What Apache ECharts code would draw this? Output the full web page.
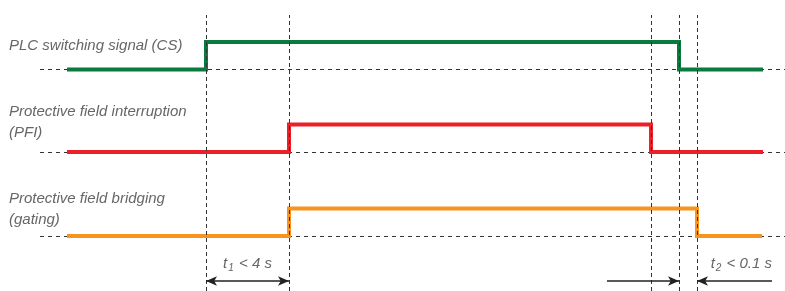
<!DOCTYPE html>
<html><head><meta charset="utf-8">
<script src="https://cdn.jsdelivr.net/npm/echarts@6/dist/echarts.min.js"></script>
<style>html,body{margin:0;padding:0;background:#fff}#c{width:785px;height:291px}</style>
</head><body><div id="c"></div>
<script>
// ---- data ----
const signalNames = ['PLC switching signal (CS)', 'Protective field interruption\n(PFI)', 'Protective field bridging\n(gating)'];
const traceStart = [67, 67, 67];
const riseTimes = [206, 289, 289];
const fallTimes = [679, 651, 697];
const traceEnd = [763, 763, 762];
const baselineFrom = 40;
const baselineTo = 785;
const markerTimes = [206, 289, 651, 679, 697];
const t1Span = [206, 289];
const t2Before = [607, 679];
const t2After = [697, 772];
const t1Text = ['t', '1', ' < 4 s'];
const t2Text = ['t', '2', ' < 0.1 s'];

// ---- layout ----
const W = 785;
const colors = ['#0b7a3e', '#ec2029', '#f7941d'];
const gridTops = [42, 124.5, 208.5];
const rowH = 27.5;
const labelTops = [35, 101, 188];
const FONT = '"Liberation Sans", Arial, sans-serif';

const grids = [], xAxes = [], yAxes = [], series = [];
function addGrid(g, ymin, ymax) {
  grids.push(Object.assign({left: 0, right: 0, containLabel: false}, g));
  const i = grids.length - 1;
  xAxes.push({gridIndex: i, type: 'value', min: 0, max: W, show: false});
  yAxes.push({gridIndex: i, type: 'value', min: ymin, max: ymax, show: false});
  return i;
}

signalNames.forEach((n, k) => {
  const gi = addGrid({top: gridTops[k], height: rowH}, 0, 1);
  // dashed baseline
  series.push({
    type: 'line', xAxisIndex: gi, yAxisIndex: gi, data: [], z: 1, silent: true,
    markLine: {
      silent: true, symbol: 'none', animation: false, z: 1,
      label: {show: false},
      lineStyle: {color: '#333', width: 1, type: [4, 4]},
      data: [[{coord: [baselineFrom, 0]}, {coord: [baselineTo, 0]}]]
    }
  });
  series.push({
    type: 'line', xAxisIndex: gi, yAxisIndex: gi, z: 3, step: 'end', clip: false,
    showSymbol: false, symbol: 'none', silent: true,
    lineStyle: {color: colors[k], width: 4, join: 'miter', cap: 'butt'},
    data: [[traceStart[k], 0], [riseTimes[k], 1], [fallTimes[k], 0], [traceEnd[k], 0]]
  });
});

// overlay grid for vertical markers
const go = addGrid({top: 15, bottom: 0}, 0, 1);
series.push({
  type: 'line', xAxisIndex: go, yAxisIndex: go, data: [], z: 5, silent: true,
  markLine: {
    silent: true, symbol: 'none', animation: false, z: 6,
    label: {show: false},
    lineStyle: {color: '#333', width: 1, type: [4, 3]},
    data: markerTimes.map(t => ({xAxis: t}))
  }
});

// arrow grid
const ga = addGrid({top: 276, height: 10}, 0, 1);
const rich = {
  i: {fontFamily: FONT, fontStyle: 'italic', fontSize: 15, color: '#666', lineHeight: 18},
  s: {fontFamily: FONT, fontStyle: 'italic', fontSize: 10, color: '#666', lineHeight: 18, padding: [9, 1, 0, 1]}
};
const fmt = a => '{i|' + a[0] + '}{s|' + a[1] + '}{i|' + a[2] + '}';
series.push({
  type: 'line', xAxisIndex: ga, yAxisIndex: ga, data: [], z: 5, silent: true,
  markLine: {
    silent: true, animation: false, symbolSize: [7, 11], z: 6,
    lineStyle: {color: '#222', width: 1.5, type: 'solid'},
    data: [
      [{coord: [t1Span[0], 0.5], symbol: 'arrow'}, {coord: [t1Span[1], 0.5], symbol: 'arrow',
        label: {show: true, position: 'insideMiddleTop', distance: [0, 8], formatter: fmt(t1Text), rich: rich}}],
      [{coord: [t2Before[0], 0.5], symbol: 'none'}, {coord: [t2Before[1], 0.5], symbol: 'arrow', label: {show: false}}],
      [{coord: [t2After[0], 0.5], symbol: 'arrow'}, {coord: [t2After[1], 0.5], symbol: 'none',
        label: {show: true, position: 'insideEndTop', distance: [0, 8], formatter: fmt(t2Text), rich: rich}}]
    ]
  }
});

const chart = echarts.init(document.getElementById('c'), null, {renderer: 'canvas'});
chart.setOption({
  animation: false,
  grid: grids, xAxis: xAxes, yAxis: yAxes, series: series,
  graphic: signalNames.map((n, k) => ({
    type: 'text', left: 9, top: labelTops[k], silent: true,
    style: {text: n, font: 'italic 15px ' + FONT, fill: '#666', lineHeight: 21}
  }))
});
</script></body></html>
